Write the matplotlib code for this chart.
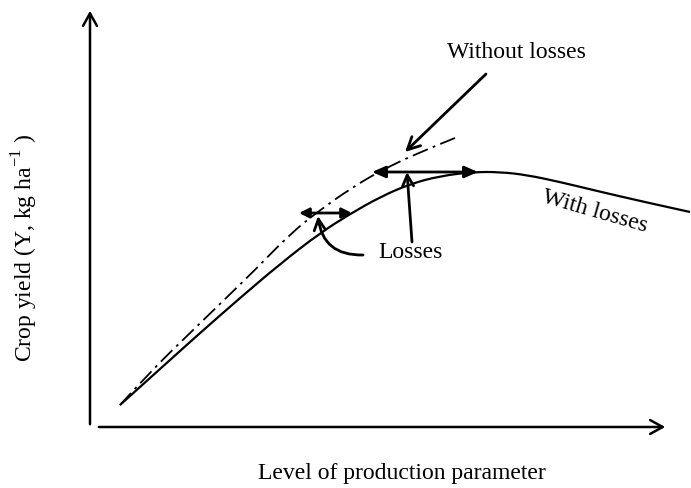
import matplotlib
matplotlib.use("Agg")
import matplotlib.pyplot as plt
from matplotlib.path import Path
from matplotlib.patches import PathPatch

plt.rcParams['font.family'] = ['Liberation Serif', 'DejaVu Serif']
plt.rcParams['mathtext.fontset'] = 'custom'
plt.rcParams['mathtext.rm'] = 'Liberation Serif'

# curves (pixel coords, y down)
with_x = [120, 160, 200, 240, 280, 320, 350, 380, 410, 440, 473, 500, 527, 560, 593, 640, 690]
with_y = [405, 369, 333, 298, 264, 233, 214, 197, 184, 176, 172, 172, 175, 182, 190, 201, 212]
without_x = [120, 150, 190, 223, 257, 290, 320, 350, 380, 420, 455]
without_y = [405, 372, 333, 301, 268, 234, 210, 189, 171, 152, 138]


def smooth_path(xs, ys):
    # quadratic bezier through midpoints, read points act as control points
    pts = list(zip(xs, ys))
    verts = [pts[0]]
    codes = [Path.MOVETO]
    for i in range(1, len(pts) - 1):
        mid = ((pts[i][0] + pts[i + 1][0]) / 2, (pts[i][1] + pts[i + 1][1]) / 2)
        if i == len(pts) - 2:
            mid = pts[-1]
        verts += [pts[i], mid]
        codes += [Path.CURVE3, Path.CURVE3]
    return Path(verts, codes)


fig = plt.figure(figsize=(6.91, 4.88), dpi=100)
ax = fig.add_axes([0, 0, 1, 1])
ax.set_xlim(0, 691)
ax.set_ylim(488, 0)
ax.axis('off')

ax.add_patch(PathPatch(smooth_path(with_x, with_y), fill=False, color='black', lw=1.6))
ax.add_patch(PathPatch(smooth_path(without_x, without_y), fill=False, color='black', lw=1.3,
                       linestyle=(0, (9, 3, 1.5, 3))))

# axes
ax.annotate('', xy=(90, 8), xytext=(90, 427),
            arrowprops=dict(arrowstyle='->,head_length=0.9,head_width=0.5', lw=1.8, color='black'))
ax.annotate('', xy=(668, 427), xytext=(96, 427),
            arrowprops=dict(arrowstyle='->,head_length=0.9,head_width=0.5', lw=1.8, color='black'))

# double arrows for losses
ax.annotate('', xy=(299, 213), xytext=(352, 213),
            arrowprops=dict(arrowstyle='<|-|>,head_length=0.6,head_width=0.3', lw=2, color='black',
                            shrinkA=0, shrinkB=0))
ax.annotate('', xy=(372, 172), xytext=(478, 172),
            arrowprops=dict(arrowstyle='<|-|>,head_length=0.8,head_width=0.35', lw=2, color='black',
                            shrinkA=0, shrinkB=0))

# pointer arrows
ax.annotate('', xy=(405, 152), xytext=(486, 74),
            arrowprops=dict(arrowstyle='->,head_length=0.9,head_width=0.45', lw=2, color='black',
                            shrinkA=0, shrinkB=0))
ax.annotate('', xy=(407, 172), xytext=(412, 242),
            arrowprops=dict(arrowstyle='->,head_length=0.8,head_width=0.4', lw=2, color='black',
                            shrinkA=0, shrinkB=0))
ax.annotate('', xy=(318, 216), xytext=(363, 255),
            arrowprops=dict(arrowstyle='->,head_length=0.8,head_width=0.4', lw=2, color='black',
                            shrinkA=0, shrinkB=0, connectionstyle='arc3,rad=-0.45'))

# labels
ax.text(516, 53, 'Without losses', fontsize=17, ha='center', va='center')
ax.text(411, 252, 'Losses', fontsize=17, ha='center', va='center')
ax.text(595, 212, 'With losses', fontsize=17, ha='center', va='center', rotation=-16)
ax.text(402, 473, 'Level of production parameter', fontsize=17, ha='center', va='center')
ax.text(25, 248, 'Crop yield (Y, kg ha$^{\\mathrm{-1}}$ )', fontsize=17, ha='center', va='center',
        rotation=90)

fig.savefig('out.png', dpi=100)
